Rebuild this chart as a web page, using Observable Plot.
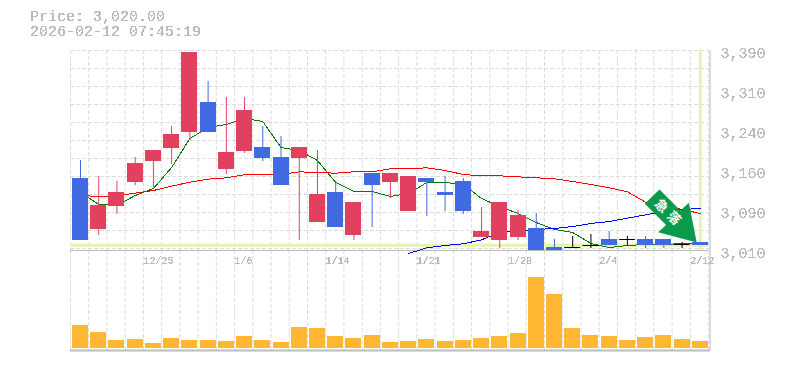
<!DOCTYPE html>
<html><head><meta charset="utf-8">
<script src="https://cdn.jsdelivr.net/npm/d3@7"></script>
<script src="https://cdn.jsdelivr.net/npm/@observablehq/plot@0.6"></script>
<style>
html,body{margin:0;padding:0;background:#fff;width:785px;height:370px;overflow:hidden}
#wrap{position:relative;width:785px;height:370px}
#title{position:absolute;left:30px;top:10px;font:15px/15px "Liberation Mono",monospace;color:#bbb;filter:url(#alias);white-space:pre}
#wrap > svg{position:absolute;left:0;overflow:visible}
.alias g[aria-label^="y-axis"] text,.alias g[aria-label^="x-axis"] text{filter:url(#alias)}
</style></head><body>
<svg width="0" height="0" style="position:absolute"><filter id="alias" color-interpolation-filters="sRGB" x="-5%" y="-5%" width="110%" height="110%"><feComponentTransfer><feFuncA type="discrete" tableValues="0 0 0 1 1 1 1 1"/></feComponentTransfer></filter></svg>
<div id="wrap"><div id="title">Price: 3,020.00
2026-02-12 07:45:19</div></div>
<script>
const dates=["12/19","12/22","12/23","12/24","12/25","12/26","12/29","12/30","1/5","1/6","1/7","1/8","1/9","1/13","1/14","1/15","1/16","1/19","1/20","1/21","1/22","1/23","1/26","1/27","1/28","1/29","1/30","2/2","2/3","2/4","2/5","2/6","2/9","2/10","2/12"];
const opens=[3146.8,3049.9,3093.6,3139.2,3179.1,3203.8,3234.2,3291.2,3163.9,3198.1,3205.7,3186.7,3184.8,3063.2,3120.2,3038.5,3156.3,3139.2,3084.1,3146.8,3120.2,3141.1,3034.7,3029,3034.7,3051.8,3015.7,3015.7,3019.5,3030.9,3030.9,3030.9,3030.9,3021.4,3025.2];
const closes=[3029,3095.5,3120.2,3175.3,3200,3230.4,3386.2,3234.2,3196.2,3276,3184.8,3133.5,3205.7,3116.4,3053.7,3101.2,3133.5,3156.3,3150.6,3139.2,3114.5,3084.1,3046.1,3101.2,3076.5,3010,3010,3015.7,3019.5,3019.5,3030.9,3019.5,3019.5,3021.4,3019.5];
const highs=[3181,3150.6,3141.1,3186.7,3200,3245.6,3386.2,3331.1,3300.7,3300.7,3245.6,3226.6,3205.7,3200,3139.2,3101.2,3156.3,3156.3,3150.6,3146.8,3150.6,3146.8,3091.7,3101.2,3086,3080.3,3030.9,3036.6,3040.4,3046.1,3036.6,3036.6,3030.9,3025.2,3025.2];
const lows=[3029,3038.5,3078.4,3133.5,3129.7,3173.4,3219,3234.2,3154.4,3194.3,3179.1,3133.5,3029,3063.2,3053.7,3029,3053.7,3108.8,3084.1,3074.6,3084.1,3078.4,3034.7,3013.8,3029,3010,3010,3015.7,3013.8,3019.5,3019.5,3013.8,3013.8,3013.8,3019.5];
const maShort=[3120.2,3097.4,3095.5,3114.5,3127.8,3167.7,3222.8,3243.7,3249.4,3260.8,3255.1,3205.7,3200,3181,3139.2,3122.1,3122.1,3112.6,3118.3,3139.2,3139.2,3135.4,3108.8,3093.6,3080.3,3063.2,3049.9,3044.2,3023.3,3015.7,3019.5,3021.4,3021.4,3023.3,3023.3];
const maMid=[3114.5,3112.6,3114.5,3118.9,3124,3132.2,3139.8,3145.5,3148.1,3153.8,3153.8,3154.4,3159.5,3158.2,3156.9,3159.5,3159.5,3165.2,3165.2,3167.1,3162,3154.4,3151.9,3151.9,3150,3148.1,3146.2,3141.1,3135.4,3129.1,3121.5,3101.8,3095.5,3087.9,3080.3];
const maLong=[null,null,null,null,null,null,null,null,null,null,null,null,null,null,null,null,null,null,3004.3,3015.1,3019.5,3022.7,3030.3,3044.8,3046.7,3049.9,3051.8,3055.6,3061.3,3065.1,3071.4,3077.8,3084.1,3087.9,3089.8];
const volume=[23,16,8,9,5,10,8,8,7,12,8,6,21,20,12,10,13,6,7,9,7,8,10,12,15,71,54,20,13,12,8,11,13,9,7];
const priceTicks=[3390,3314,3238,3162,3086,3010];
const priceLabels=["3,390","3,310","3,240","3,160","3,090","3,010"];
const dateTicks=[4,9,14,19,24,29,34];
const gridPrices=[3390,3355.8,3321.6,3287.4,3253.2,3219,3184.8,3150.6,3116.4,3082.2,3048,3013.8];
const lastPrice=3020;
const arrowX=[32.31,33.46,33.92,34.35,32.24,32.67,31.5];
const arrowY=[3125.9,3086,3100.6,3025.2,3044.8,3058.5,3098.7];
const arrowText=["急","落"];
const arrowTextX=[32.41,33.1];
const arrowTextY=[3094.5,3071];

const n=dates.length;
const rows=dates.map((d,i)=>({i,c:i+0.548,x1:i+0.11,x2:i+0.988,open:opens[i],close:closes[i],high:highs[i],low:lows[i],ms:maShort[i],mm:maMid[i],ml:maLong[i],vol:volume[i],
  color:closes[i]>opens[i]?"#e2405f":closes[i]<opens[i]?"#4169e1":"#000"}));
const bodies=rows.filter(r=>r.open!==r.close), flats=rows.filter(r=>r.open===r.close);
const verticals=d3.range(n+1);
const gridStyle={stroke:"#ddd",strokeWidth:1,strokeDasharray:"4 2"};
const axisColor="#bbb", font='"Liberation Mono",monospace';
const xOpt={type:"linear",domain:[0,n],range:[70,708.05]};
const lineOpt=(key,stroke)=>({x:"c",y:key,stroke,strokeWidth:1,shapeRendering:"crispEdges",defined:d=>d[key]!=null});

const pricePlot=Plot.plot({
  width:785,height:270,marginLeft:70,marginRight:77,marginTop:50,marginBottom:20,
  style:{background:"transparent",fontFamily:font,overflow:"visible"},
  className:"alias",
  x:{...xOpt,axis:null},
  y:{type:"linear",domain:[3010,3390],range:[250,50],axis:null},
  marks:[
    Plot.ruleY(gridPrices,gridStyle),
    Plot.ruleX(verticals,gridStyle),
    Plot.ruleY([lastPrice],{stroke:"#e4f5ab",strokeWidth:3}),
    Plot.ruleX([rows[n-1].c],{y1:3010,y2:3390,stroke:"#e4f5ab",strokeWidth:3}),
    Plot.ruleY([3010],{stroke:axisColor,strokeWidth:1}),
    Plot.ruleX([n],{stroke:axisColor,strokeWidth:1,dx:1.5}),
    Plot.line(rows,lineOpt("mm","#f00")),
    Plot.line(rows,lineOpt("ms","#007a00")),
    Plot.line(rows,lineOpt("ml","#00f")),
    Plot.ruleX(rows,{x:"c",y1:"low",y2:"high",stroke:"color",strokeWidth:1}),
    Plot.rect(bodies,{x1:"x1",x2:"x2",y1:"open",y2:"close",fill:"color",shapeRendering:"crispEdges"}),
    Plot.ruleY(flats,{x1:"x1",x2:"x2",y:"close",stroke:"#000",strokeWidth:1}),
    Plot.line(arrowX.map((x,k)=>({x,y:arrowY[k]})),{x:"x",y:"y",fill:"#0a9a4d",stroke:"none",curve:"linear-closed"}),
    Plot.text(arrowText,{x:(d,k)=>arrowTextX[k],y:(d,k)=>arrowTextY[k],text:d=>d,rotate:45,fill:"#fff",fontSize:13,fontWeight:"bold",fontFamily:'"Noto Sans CJK JP"'}),
    Plot.axisY(priceTicks,{anchor:"right",tickSize:0,tickPadding:12,tickFormat:(d,k)=>priceLabels[k],textAnchor:"start",fontSize:15,fill:axisColor,dy:3,label:null}),
    Plot.axisX(dateTicks,{anchor:"bottom",tickSize:0,tickPadding:6,tickFormat:d=>dates[d],textAnchor:"start",fontSize:10,fill:axisColor,label:null})
  ]
});
pricePlot.style.top="0px";
const volumePlot=Plot.plot({
  width:785,height:101,marginLeft:70,marginRight:77,marginTop:0,marginBottom:3,
  style:{background:"transparent",overflow:"visible"},
  x:{...xOpt,axis:null},
  y:{type:"linear",domain:[0,98],range:[98,0],axis:null},
  marks:[
    Plot.ruleX(verticals,{...gridStyle,y1:-2,y2:98}),
    Plot.ruleX([n],{y1:-2,y2:98,stroke:axisColor,strokeWidth:1,dx:1.5}),
    Plot.rect(rows,{x1:"x1",x2:"x2",y1:0,y2:"vol",fill:"#ffb733",shapeRendering:"crispEdges"}),
    Plot.ruleY([-2],{stroke:axisColor,strokeWidth:2,x1:0,x2:n+0.1})
  ]
});
volumePlot.style.top="250px";
const wrap=document.getElementById("wrap");
wrap.appendChild(volumePlot);wrap.appendChild(pricePlot);
</script></body></html>
